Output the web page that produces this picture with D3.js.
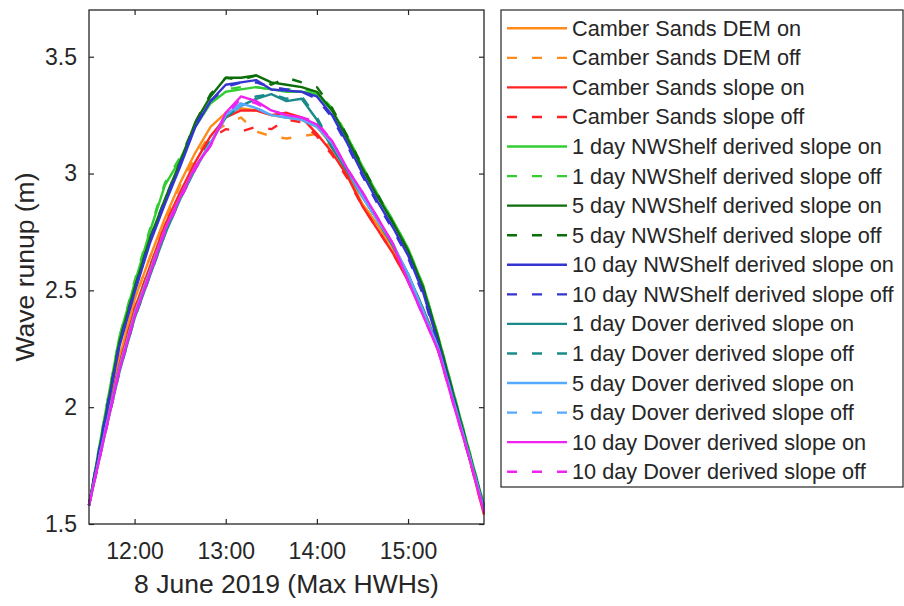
<!DOCTYPE html>
<html>
<head>
<meta charset="utf-8">
<script src="https://cdn.jsdelivr.net/npm/d3@7"></script>
<style>
  body { margin: 0; background: #fff; }
  text { font-family: "Liberation Sans", Arial, sans-serif; fill: #262626; }
</style>
</head>
<body>
<div id="chart"></div>
<script>
// sample times (8 June 2019)
var times = ["11:30","11:40","11:50","12:00","12:10","12:20","12:30","12:40","12:50",
             "13:00","13:10","13:20","13:30","13:40","13:50","14:00","14:10","14:20",
             "14:30","14:40","14:50","15:00","15:10","15:20","15:30","15:40","15:50"];
var xTickLabels = ["12:00", "13:00", "14:00", "15:00"];
var yTickValues = [1.5, 2, 2.5, 3, 3.5];

// wave runup (m), one array per run
var camberDemOn    = [1.58,1.91,2.21,2.46,2.64,2.81,2.96,3.09,3.20,3.26,3.28,3.27,3.25,3.24,3.23,3.20,3.12,3.00,2.87,2.78,2.68,2.56,2.42,2.26,2.04,1.81,1.56];
var camberDemOff   = [1.58,1.91,2.21,2.46,2.64,2.80,2.95,3.07,3.17,3.21,3.24,3.18,3.16,3.15,3.16,3.17,3.11,3.00,2.87,2.78,2.68,2.56,2.42,2.26,2.04,1.81,1.56];
var camberSlopeOn  = [1.58,1.89,2.18,2.42,2.60,2.78,2.92,3.05,3.16,3.24,3.27,3.27,3.25,3.26,3.24,3.17,3.09,2.99,2.86,2.76,2.66,2.54,2.40,2.24,2.02,1.79,1.54];
var camberSlopeOff = [1.58,1.89,2.18,2.42,2.60,2.77,2.91,3.04,3.15,3.19,3.18,3.20,3.19,3.23,3.22,3.16,3.08,2.98,2.86,2.76,2.66,2.54,2.40,2.24,2.02,1.79,1.54];
var nws1On   = [1.58,1.95,2.30,2.53,2.75,2.95,3.06,3.20,3.30,3.35,3.36,3.37,3.36,3.35,3.35,3.34,3.27,3.16,3.03,2.91,2.80,2.68,2.52,2.30,2.06,1.82,1.58];
var nws1Off  = [1.58,1.95,2.30,2.54,2.76,2.96,3.07,3.21,3.31,3.36,3.37,3.37,3.36,3.36,3.36,3.35,3.28,3.16,3.03,2.91,2.80,2.68,2.52,2.30,2.06,1.82,1.58];
var nws5On   = [1.58,1.93,2.28,2.51,2.72,2.89,3.05,3.22,3.33,3.41,3.41,3.42,3.39,3.38,3.37,3.35,3.27,3.15,3.02,2.90,2.79,2.67,2.51,2.29,2.05,1.81,1.57];
var nws5Off  = [1.58,1.93,2.28,2.51,2.72,2.89,3.05,3.22,3.34,3.41,3.40,3.42,3.38,3.41,3.39,3.37,3.28,3.16,3.03,2.91,2.79,2.67,2.51,2.29,2.05,1.81,1.57];
var nws10On  = [1.58,1.92,2.26,2.49,2.70,2.87,3.03,3.20,3.31,3.38,3.39,3.40,3.36,3.355,3.35,3.33,3.25,3.13,3.00,2.88,2.77,2.65,2.49,2.27,2.04,1.80,1.57];
var nws10Off = [1.58,1.93,2.27,2.50,2.71,2.88,3.04,3.21,3.31,3.37,3.39,3.39,3.37,3.36,3.35,3.32,3.24,3.12,2.99,2.87,2.76,2.64,2.48,2.26,2.03,1.79,1.56];
var dov1On   = [1.58,1.87,2.15,2.38,2.56,2.74,2.89,3.02,3.13,3.24,3.29,3.32,3.34,3.31,3.32,3.23,3.11,3.01,2.90,2.80,2.69,2.57,2.42,2.25,2.03,1.80,1.57];
var dov1Off  = [1.58,1.87,2.15,2.38,2.56,2.74,2.89,3.02,3.14,3.25,3.30,3.33,3.34,3.32,3.33,3.24,3.12,3.01,2.90,2.80,2.69,2.57,2.42,2.25,2.03,1.80,1.57];
var dov5On   = [1.58,1.88,2.17,2.40,2.58,2.76,2.90,3.03,3.13,3.25,3.30,3.28,3.25,3.24,3.23,3.20,3.13,3.02,2.90,2.80,2.70,2.57,2.41,2.25,2.02,1.80,1.56];
var dov5Off  = [1.58,1.88,2.17,2.40,2.58,2.76,2.90,3.03,3.13,3.24,3.29,3.28,3.25,3.24,3.23,3.21,3.13,3.02,2.90,2.80,2.70,2.57,2.41,2.25,2.02,1.80,1.56];
var dov10On  = [1.58,1.87,2.16,2.39,2.57,2.76,2.90,3.03,3.12,3.26,3.33,3.31,3.27,3.25,3.24,3.21,3.14,3.02,2.92,2.81,2.70,2.54,2.39,2.24,2.01,1.79,1.55];
var dov10Off = [1.58,1.87,2.16,2.39,2.57,2.75,2.89,3.02,3.12,3.25,3.32,3.30,3.27,3.25,3.24,3.22,3.14,3.02,2.92,2.81,2.70,2.54,2.39,2.24,2.01,1.79,1.55];

var seriesNames = ["Camber Sands DEM on", "Camber Sands DEM off",
                   "Camber Sands slope on", "Camber Sands slope off",
                   "1 day NWShelf derived slope on", "1 day NWShelf derived slope off",
                   "5 day NWShelf derived slope on", "5 day NWShelf derived slope off",
                   "10 day NWShelf derived slope on", "10 day NWShelf derived slope off",
                   "1 day Dover derived slope on", "1 day Dover derived slope off",
                   "5 day Dover derived slope on", "5 day Dover derived slope off",
                   "10 day Dover derived slope on", "10 day Dover derived slope off"];
var seriesValues = [camberDemOn, camberDemOff, camberSlopeOn, camberSlopeOff,
                    nws1On, nws1Off, nws5On, nws5Off, nws10On, nws10Off,
                    dov1On, dov1Off, dov5On, dov5Off, dov10On, dov10Off];
var colors = ["#ff8c1a", "#ff8c1a", "#ff2222", "#ff2222",
              "#33cc33", "#33cc33", "#0b6e0b", "#0b6e0b",
              "#3434d2", "#3434d2", "#1a8a8a", "#1a8a8a",
              "#55aaff", "#55aaff", "#f022f0", "#f022f0"];

function runup_chart(){
	var margin = {top: 10, left: 89};
	var width = 395, height = 514;
	var parse = d3.timeParse("%H:%M");

	var svg = d3.select("#chart")
		.append("svg")
		.attr("width", 904)
		.attr("height", 606);
	var g = svg.append("g")
		.attr("transform", "translate(" + margin.left + "," + margin.top + ")");

	var x = d3.scaleTime()
		.domain([parse("11:30"), parse("15:50")])
		.range([0, width]);
	var y = d3.scaleLinear()
		.domain([1.5, 3.7])
		.range([height, 0]);

	// lines
	var line = d3.line()
		.x(function(d, i) { return x(parse(times[i])); })
		.y(function(d) { return y(d); });

	g.append("g")
		.selectAll("path")
		.data(seriesValues)
		.enter()
		.append("path")
		.attr("d", line)
		.attr("fill", "none")
		.attr("stroke", function(d, i) { return colors[i]; })
		.attr("stroke-width", 2.4)
		.attr("stroke-linejoin", "round")
		.attr("stroke-dasharray", function(d, i) { return i % 2 ? "10,15" : null; });

	// axes, ticks pointing inwards
	var xTicks = xTickLabels.map(parse);
	g.append("g")
		.attr("transform", "translate(0," + height + ")")
		.call(d3.axisBottom(x).tickValues(xTicks).tickFormat(d3.timeFormat("%H:%M"))
			.tickSizeInner(-5).tickSizeOuter(0).tickPadding(19));
	g.append("g")
		.call(d3.axisTop(x).tickValues(xTicks).tickFormat("")
			.tickSizeInner(-5).tickSizeOuter(0));
	g.append("g")
		.call(d3.axisLeft(y).tickValues(yTickValues).tickFormat(d3.format("~g"))
			.tickSizeInner(-5).tickSizeOuter(0).tickPadding(12));
	g.append("g")
		.attr("transform", "translate(" + width + ",0)")
		.call(d3.axisRight(y).tickValues(yTickValues).tickFormat("")
			.tickSizeInner(-5).tickSizeOuter(0));

	g.selectAll(".domain").remove();
	g.selectAll(".tick line").attr("stroke", "#262626").attr("stroke-width", 1.2);
	g.selectAll(".tick text").attr("font-size", 23).attr("fill", "#262626")
		.style("font-family", "'Liberation Sans', Arial, sans-serif");

	// box
	g.append("rect")
		.attr("x", 0)
		.attr("y", 0)
		.attr("width", width)
		.attr("height", height)
		.attr("fill", "none")
		.attr("stroke", "#262626")
		.attr("stroke-width", 1.3);

	// axis labels
	g.append("text")
		.attr("x", width / 2)
		.attr("y", height + 69)
		.attr("text-anchor", "middle")
		.attr("font-size", 26.5)
		.text("8 June 2019 (Max HWHs)");
	g.append("text")
		.attr("transform", "rotate(-90)")
		.attr("x", -height / 2)
		.attr("y", -55)
		.attr("text-anchor", "middle")
		.attr("font-size", 26.5)
		.text("Wave runup (m)");

	// legend
	var rowH = 29.56;
	var legend = svg.append("g")
		.attr("transform", "translate(501,10)");
	legend.append("rect")
		.attr("width", 402)
		.attr("height", 477)
		.attr("fill", "#fff")
		.attr("stroke", "#262626")
		.attr("stroke-width", 1.2);
	var rows = legend.selectAll("g.row")
		.data(seriesNames)
		.enter()
		.append("g")
		.attr("class", "row")
		.attr("transform", function(d, i) { return "translate(0," + (18.3 + i * rowH) + ")"; });
	rows.append("line")
		.attr("x1", 6)
		.attr("x2", 66)
		.attr("stroke", function(d, i) { return colors[i]; })
		.attr("stroke-width", 2.4)
		.attr("stroke-dasharray", function(d, i) { return i % 2 ? "10,15" : null; });
	rows.append("text")
		.attr("x", 71)
		.attr("y", 7.5)
		.attr("font-size", 21.7)
		.text(function(d) { return d; });
}

runup_chart();
</script>
</body>
</html>
